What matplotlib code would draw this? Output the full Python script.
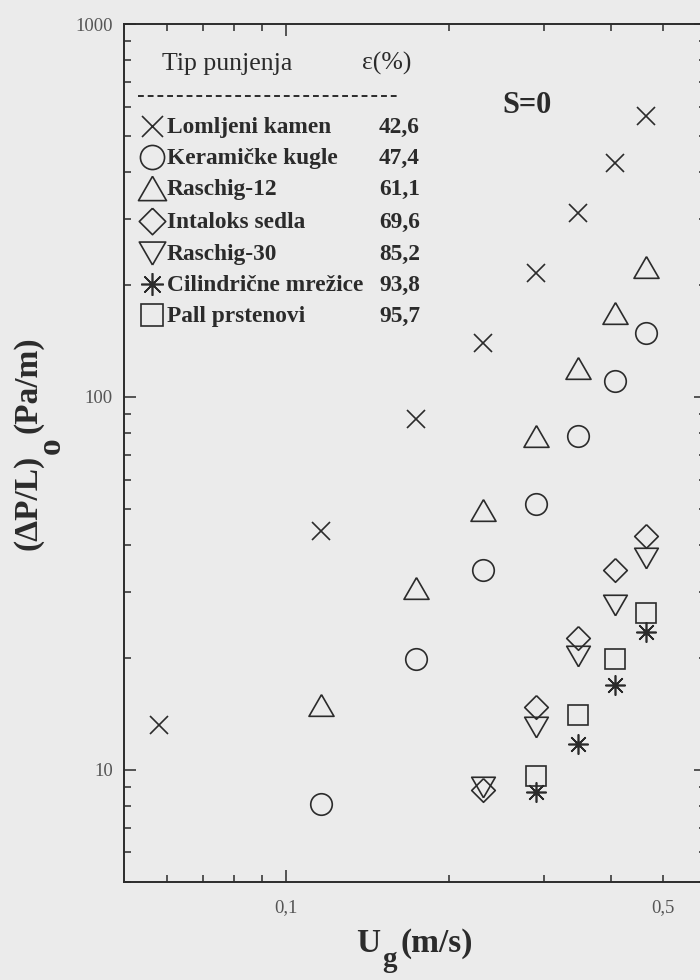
import matplotlib
matplotlib.use("Agg")
import matplotlib.pyplot as plt
import numpy as np
from matplotlib.ticker import FixedLocator, FixedFormatter, NullFormatter

# data (S = 0)
ug = [0.058, 0.116, 0.174, 0.232, 0.290, 0.348, 0.406, 0.464]

lomljeni = [13.2, 43.7, 87.3, 139.6, 215, 311, 424, 566]
keramicke = [8.1, 19.8, 34.4, 51.6, 78.6, 110, 148.5]
raschig12 = [14.9, 30.8, 49.8, 78.6, 119.6, 168, 223]
intaloks = [8.8, 14.7, 22.6, 34.4, 42.4]
raschig30 = [9.0, 13.0, 20.2, 27.7, 37.0]
cilindricne = [8.73, 11.7, 16.9, 23.4]
pall = [9.6, 14.0, 19.8, 26.4]

names = ["Lomljeni kamen", "Keramičke kugle", "Raschig-12", "Intaloks sedla",
         "Raschig-30", "Cilindrične mrežice", "Pall prstenovi"]
porosity = [42.6, 47.4, 61.1, 69.6, 85.2, 93.8, 95.7]
series = [lomljeni, keramicke, raschig12, intaloks, raschig30, cilindricne, pall]

plt.rcParams['font.family'] = ['Liberation Serif', 'DejaVu Serif']
BG = '#ebebeb'
INK = '#2b2b2b'

# marker shapes (bbox centred triangles / diamond like in the scan)
tri_up = [(0, 0.433), (-0.5, -0.433), (0.5, -0.433), (0, 0.433)]
tri_dn = [(0, -0.433), (-0.5, 0.433), (0.5, 0.433), (0, -0.433)]
diamond = [(0, 0.5), (0.5, 0), (0, -0.5), (-0.5, 0), (0, 0.5)]
styles = [
    dict(marker='x', ms=13.5),
    dict(marker='o', ms=15.5),
    dict(marker=tri_up, ms=18),
    dict(marker=diamond, ms=17),
    dict(marker=tri_dn, ms=17),
    dict(marker=(8, 2, 0), ms=14.5),
    dict(marker='s', ms=14.5),
]

fig = plt.figure(figsize=(7, 9.8), dpi=100, facecolor=BG)
ax = fig.add_axes([124/700, 98/980, 582/700, 858/980], facecolor=BG)

for i, (vals, st) in enumerate(zip(series, styles)):
    x = ug[len(ug) - len(vals):]
    ax.plot(x, vals, ls='none', mfc='none', mec=INK, mew=1.2, **st)
    if i == 5:
        ax.plot(x, vals, ls='none', marker='o', ms=3.5, mfc=INK, mec=INK)

ax.set_xscale('log')
ax.set_yscale('log')
ax.set_xlim(0.05, 0.6)
ax.set_ylim(5, 1000)

ax.xaxis.set_major_locator(FixedLocator([0.1]))
ax.xaxis.set_major_formatter(FixedFormatter(['0,1']))
ax.xaxis.set_minor_locator(FixedLocator([0.06, 0.07, 0.08, 0.09, 0.2, 0.3, 0.4, 0.5]))
ax.xaxis.set_minor_formatter(FixedFormatter(['', '', '', '', '', '', '', '0,5']))
ax.yaxis.set_major_locator(FixedLocator([10, 100, 1000]))
ax.yaxis.set_major_formatter(FixedFormatter(['10', '100', '1000']))
ymin = [m * d for d in (1, 10, 100) for m in range(2, 10) if 5 <= m * d < 1000]
ax.yaxis.set_minor_locator(FixedLocator(ymin))
ax.yaxis.set_minor_formatter(NullFormatter())

ax.tick_params(which='both', direction='in', top=True, right=True,
               color=INK, width=1.1, labelsize=13.5, labelcolor='#555555')
ax.tick_params(which='major', length=8.6)
ax.tick_params(which='minor', length=5)
ax.tick_params(axis='x', which='both', pad=12)
ax.tick_params(axis='y', which='both', pad=8)
for sp in ax.spines.values():
    sp.set_color(INK)
    sp.set_linewidth(1.4)

# axis labels (subscripts placed by hand as in the scan)
lab = dict(fontsize=24, fontweight='bold', color=INK)
fig.text(380/700, 1 - 943/980, 'U', ha='right', va='center', **lab)
fig.text(437/700, 1 - 943/980, '(m/s)', ha='center', va='center', **lab)
fig.text(382/700, 1 - 967/980, 'g', ha='left', va='baseline',
         fontsize=21, fontweight='bold', color=INK)
fig.text(28/700, 1 - 502/980, '(ΔP/L)', ha='center', va='center', rotation=90, **lab)
fig.text(51/700, 1 - 446/980, 'o', ha='center', va='center', rotation=90, **lab)
fig.text(28/700, 1 - 385/980, '(Pa/m)', ha='center', va='center', rotation=90, **lab)

# legend table drawn inside the axes
def fx(px):
    return (px - 124) / 582

def fy(py):
    return (882 - py) / 858

ax.text(fx(162), fy(70), 'Tip punjenja', fontsize=18.5, color=INK,
        transform=ax.transAxes, va='baseline')
ax.text(fx(362), fy(70), 'ε(%)', fontsize=18.5, color=INK,
        transform=ax.transAxes, va='baseline')
ax.plot([fx(138), fx(397)], [fy(96), fy(96)], transform=ax.transAxes,
        color=INK, lw=1.4, ls=(0, (3, 2)), clip_on=False)
row_y = [126, 157, 188, 221, 253, 284, 315]
for i, (nm, eps, st) in enumerate(zip(names, porosity, styles)):
    yy = row_y[i]
    s = dict(st)
    s['ms'] = s['ms'] * 1.12
    ax.plot([fx(152)], [fy(yy)], transform=ax.transAxes, ls='none',
            mfc='none', mec=INK, mew=1.2, clip_on=False, **s)
    if i == 5:
        ax.plot([fx(152)], [fy(yy)], transform=ax.transAxes, ls='none',
                marker='o', ms=3.5, mfc=INK, mec=INK)
    ax.text(fx(167), fy(yy + 7), nm, fontsize=16.8, fontweight='bold', color=INK,
            transform=ax.transAxes, va='baseline')
    ax.text(fx(379), fy(yy + 7), f'{eps:.1f}'.replace('.', ','), fontsize=16.8,
            fontweight='bold', color=INK, transform=ax.transAxes, va='baseline')

ax.text(fx(502), fy(113), 'S=0', fontsize=22, fontweight='bold', color=INK,
        transform=ax.transAxes, va='baseline')

fig.savefig('out.png', dpi=100, facecolor=BG)
